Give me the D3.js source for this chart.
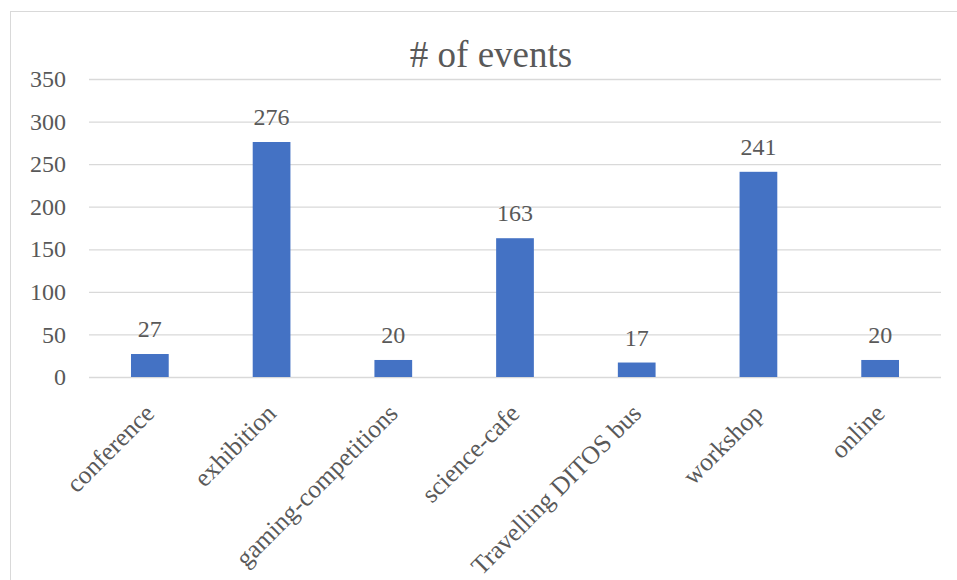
<!DOCTYPE html>
<html>
<head>
<meta charset="utf-8">
<script src="https://cdn.jsdelivr.net/npm/d3@7"></script>
<style>
  body { margin: 0; background: #fff; }
  text { font-family: "Liberation Serif", serif; fill: #595959; }
</style>
</head>
<body>
<svg width="957" height="580"></svg>
<script>
const categories = ['conference', 'exhibition', 'gaming-competitions', 'science-cafe', 'Travelling DITOS bus', 'workshop', 'online'];
const values = [27, 276, 20, 163, 17, 241, 20];
const yTicks = [0, 50, 100, 150, 200, 250, 300, 350];

const svg = d3.select('svg');
const width = +svg.attr('width');
const height = +svg.attr('height');

const data = categories.map((c, i) => ({ category: c, value: values[i] }));

const margin = { top: 79, right: 16, bottom: 203, left: 89 };
const innerWidth = width - margin.left - margin.right;
const innerHeight = height - margin.top - margin.bottom;

// chart border
svg.append('rect')
  .attr('x', 10.5).attr('y', 11.5)
  .attr('width', 960).attr('height', 600)
  .attr('fill', 'none')
  .attr('stroke', '#d9d9d9');

const g = svg.append('g')
  .attr('transform', `translate(${margin.left}, ${margin.top})`);

const xScale = d3.scaleBand()
  .domain(categories)
  .range([0, 852])
  .paddingInner(0.69)
  .paddingOuter(0.345);

const yScale = d3.scaleLinear()
  .domain([0, 350])
  .range([innerHeight, 0]);

const yAxis = d3.axisLeft(yScale)
  .tickValues(yTicks)
  .tickSize(-852)
  .tickPadding(23);

const yAxisGroup = g.append('g').call(yAxis);
yAxisGroup.selectAll('.domain').remove();
yAxisGroup.selectAll('line').attr('stroke', '#d9d9d9').attr('stroke-width', 1.3);
yAxisGroup.selectAll('text')
  .style('font-size', '24px')
  .attr('fill', '#595959');

const xAxis = d3.axisBottom(xScale).tickSize(0).tickPadding(0);
const xAxisGroup = g.append('g')
  .attr('transform', `translate(0, ${innerHeight})`)
  .call(xAxis);
xAxisGroup.selectAll('.domain').remove();
xAxisGroup.selectAll('text')
  .style('font-size', '25.5px')
  .attr('fill', '#595959')
  .attr('text-anchor', 'end')
  .attr('dy', null)
  .attr('y', 0)
  .attr('transform', 'translate(6, 38) rotate(-45)');

g.selectAll('rect.bar').data(data)
  .enter().append('rect')
  .attr('class', 'bar')
  .attr('x', d => xScale(d.category))
  .attr('y', d => yScale(d.value))
  .attr('width', xScale.bandwidth())
  .attr('height', d => innerHeight - yScale(d.value))
  .attr('fill', '#4472c4');

g.selectAll('text.value').data(data)
  .enter().append('text')
  .attr('class', 'value')
  .attr('x', d => xScale(d.category) + xScale.bandwidth() / 2)
  .attr('y', d => yScale(d.value) - 17)
  .attr('text-anchor', 'middle')
  .style('font-size', '24px')
  .text(d => d.value);

svg.append('text')
  .attr('x', 491)
  .attr('y', 67)
  .attr('text-anchor', 'middle')
  .style('font-size', '37px')
  .text('# of events');
</script>
</body>
</html>
